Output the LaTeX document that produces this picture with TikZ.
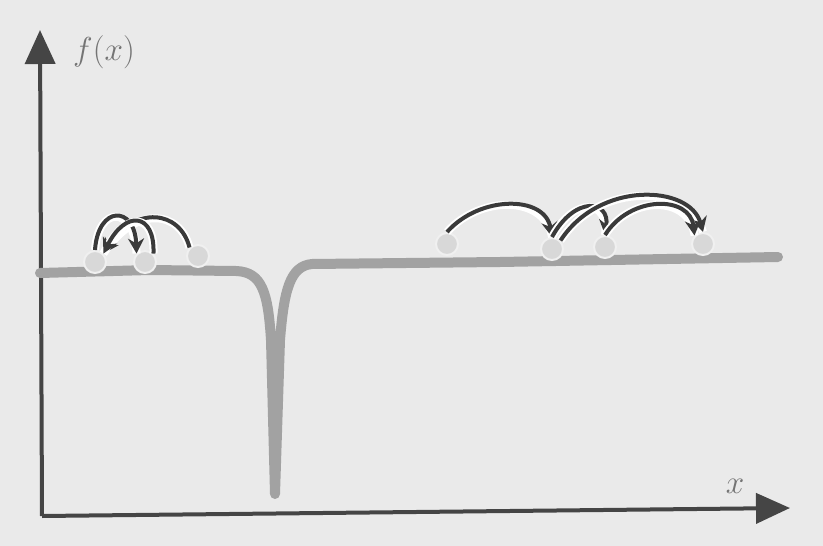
\documentclass[tikz,border=0pt]{standalone}
\usetikzlibrary{arrows.meta}
\definecolor{bg}{HTML}{EAEAEA}
\definecolor{axis}{HTML}{454545}
\definecolor{crv}{HTML}{A2A2A2}
\definecolor{ball}{HTML}{D8D8D8}
\definecolor{ballrim}{HTML}{F0F0F0}
\definecolor{arr}{HTML}{3A3A3A}
\tikzset{
  axisline/.style={axis, line width=4pt, -{Triangle[length=34pt,width=30pt]}},
  crvline/.style={crv, line width=10pt, line cap=round, line join=round},
  ballnode/.style={circle, fill=ball, draw=ballrim, line width=2pt, minimum size=22pt, inner sep=0pt},
  hop/.style={arr, line width=4pt, -{Stealth[length=15pt,width=16pt]}, preaction={draw=white, line width=8pt, -{}}},
  lbl/.style={font=\huge, scale=1.6, text=axis!75}
}
\begin{document}
\begin{tikzpicture}[x=1pt,y=-1pt]
\fill[bg] (0,0) rectangle (823,546);
\useasboundingbox (0,0) rectangle (823,546);
% axes
\coordinate (o) at (42,516);
\coordinate (ytip) at (40,30);
\coordinate (xtip) at (790,508);
\draw[axisline] (o) -- (ytip);
\draw[axisline] (o) -- (xtip);
\node[lbl] (fx) at (104,52) {$f(x)$};
\node[lbl] (xl) at (735,486) {$x$};
% curve
\draw[crvline] (40,273) -- (150,270) -- (236,271)
  .. controls (262,272) and (268,292) .. (271,340) -- (275,494)
  -- (280,340) .. controls (284,290) and (290,266) .. (312,264)
  -- (500,262) -- (778,257);
% balls
\node[ballnode] (b1) at (95,262) {};
\node[ballnode] (b2) at (145,262) {};
\node[ballnode] (b3) at (198,256) {};
\node[ballnode] (b4) at (447,244) {};
\node[ballnode] (b5) at (552,249) {};
\node[ballnode] (b6) at (605,247) {};
\node[ballnode] (b7) at (703,244) {};
% hops left
\draw[hop] (b3.north west) .. controls (180,210) and (135,205) .. (b1.north east);
\draw[hop] (b1.north) .. controls (98,205) and (135,205) .. (b2.north west);
\draw[hop] (b2.north east) .. controls (155,212) and (125,210) .. (b1.north east);
% hops right
\draw[hop] (b4.north) .. controls (480,195) and (545,195) .. (b5.north);
\draw[hop] (b5.north) .. controls (575,195) and (610,200) .. (b6.north);
\draw[hop] (b5.north east) .. controls (600,180) and (690,185) .. (b7.north);
\draw[hop] (b6.north) .. controls (630,195) and (690,195) .. (b7.north west);
\end{tikzpicture}
\end{document}
